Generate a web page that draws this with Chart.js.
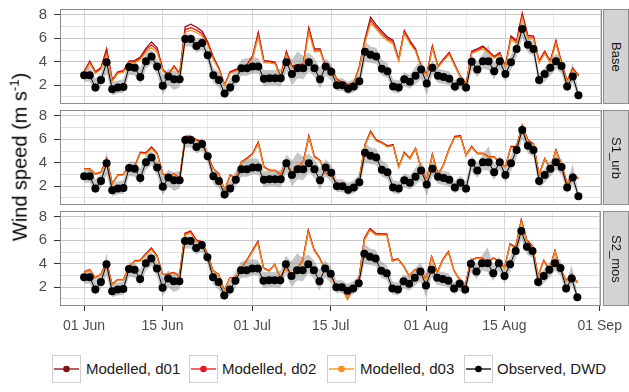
<!DOCTYPE html>
<html>
<head>
<meta charset="utf-8">
<script src="https://cdn.jsdelivr.net/npm/chart.js@4.4.0/dist/chart.umd.min.js"></script>
<style>
  body { margin: 0; background: #fff; font-family: 'Liberation Sans', Arial, sans-serif; }
  #figure { position: relative; width: 629px; height: 392px; overflow: hidden; background: #fff; }
  canvas.panel { position: absolute; left: 0; }
  .strip { position: absolute; left: 603px; width: 26px; height: 95px; background: #d3d3d3;
           border: 1px solid #8c8c8c; box-sizing: border-box; display: flex;
           align-items: center; justify-content: center; }
  .strip span { writing-mode: vertical-rl; font-size: 13px; color: #1a1a1a; }
  #ytitle { position: absolute; left: 19px; top: 157px; transform: translate(-50%, -50%) rotate(-90deg);
            white-space: nowrap; font-size: 20px; color: #000; }
  #ytitle sup { font-size: 13px; }
  .key { position: absolute; top: 355px; }
  .keytext { position: absolute; top: 360px; font-size: 15px; color: #1a1a1a; white-space: nowrap; }
</style>
</head>
<body>
<div id="figure">
  <canvas class="panel" id="p0"></canvas>
  <canvas class="panel" id="p1"></canvas>
  <canvas class="panel" id="p2"></canvas>
  <div id="ytitle">Wind speed (m s<sup>-1</sup>)</div>
  <div id="legend"></div>
</div>
<script>
// days since 01 Jun, ticks on the date axis
const xTickDays = [0, 14, 30, 44, 61, 75, 92];
const xTickLabels = ['01 Jun', '15 Jun', '01 Jul', '15 Jul', '01 Aug', '15 Aug', '01 Sep'];
const yTickValues = [2, 4, 6, 8];
const panelNames = ['Base', 'S1_urb', 'S2_mos'];
const seriesNames = ['Modelled, d01', 'Modelled, d02', 'Modelled, d03', 'Observed, DWD'];

// DWD station mean and spread (m/s)
const observed = [2.85, 2.85, 1.8, 2.45, 3.95, 1.65, 1.8, 1.85, 3.55, 3.5,
  2.7, 4.05, 4.45, 3.6, 1.95, 2.75, 2.5, 2.5, 5.95, 5.95,
  5.35, 5.6, 4.55, 2.85, 2.45, 1.3, 1.8, 2.55, 3.45, 3.45,
  3.6, 3.6, 2.55, 2.6, 2.6, 2.6, 3.95, 2.95, 3.45, 3.45,
  3.95, 3.45, 2.5, 3.6, 3.15, 2.0, 2.0, 1.7, 1.9, 2.35,
  4.85, 4.6, 4.45, 3.4, 3.2, 1.9, 1.8, 2.5, 2.3, 2.8,
  3.35, 2.15, 3.5, 2.8, 2.7, 2.55, 1.9, 2.3, 1.8, 4.0,
  3.35, 4.05, 4.05, 3.2, 4.05, 2.95, 3.95, 5.1, 6.8, 5.45,
  5.1, 2.45, 2.95, 3.5, 4.05, 3.65, 1.9, 2.75, 1.15];
const obsLow = [2.3, 2.3, 1.35, 1.9, 3.0, 1.15, 1.3, 1.35, 2.9, 2.8,
  2.1, 3.4, 3.8, 2.9, 1.2, 2.0, 1.6, 1.8, 5.3, 5.3,
  4.8, 5.0, 4.0, 2.2, 1.8, 0.9, 1.3, 2.0, 2.8, 2.8,
  3.0, 3.0, 1.9, 2.0, 2.0, 1.9, 3.2, 2.0, 2.6, 2.5,
  3.2, 2.7, 1.7, 2.8, 2.4, 1.5, 1.5, 1.2, 1.4, 1.8,
  4.0, 3.9, 3.8, 2.8, 2.6, 1.4, 1.3, 1.9, 1.7, 2.1,
  2.5, 1.1, 2.9, 2.2, 2.1, 2.0, 1.4, 1.7, 1.3, 3.3,
  2.7, 3.4, 3.3, 2.5, 3.4, 2.3, 3.3, 4.4, 6.1, 4.8,
  4.5, 1.9, 2.3, 2.8, 3.4, 3.0, 1.4, 2.2, 0.9];
const obsHigh = [3.5, 3.6, 2.6, 3.0, 4.9, 2.3, 2.4, 2.5, 4.1, 4.1,
  3.5, 4.7, 5.0, 4.2, 2.8, 3.4, 3.2, 3.3, 6.4, 6.4,
  5.9, 6.1, 5.1, 3.5, 3.1, 1.8, 2.5, 3.3, 4.2, 4.3,
  4.4, 4.3, 3.3, 3.3, 3.3, 3.4, 4.7, 4.2, 4.9, 4.5,
  4.8, 4.3, 3.5, 4.3, 3.8, 2.6, 2.6, 2.3, 2.5, 3.0,
  5.7, 5.3, 5.2, 4.2, 3.9, 2.5, 2.4, 3.1, 2.9, 3.6,
  4.1, 3.2, 4.1, 3.4, 3.3, 3.2, 2.4, 2.9, 2.4, 4.6,
  4.0, 4.7, 5.4, 3.9, 4.6, 3.5, 4.6, 5.8, 7.4, 6.1,
  5.7, 3.0, 3.5, 4.1, 4.7, 4.3, 2.4, 3.9, 1.5];

// Base run
const base01 = [3.15, 4.05, 3.15, 3.5, 5.1, 2.45, 3.15, 3.25, 4.05, 4.1,
  4.4, 5.15, 5.7, 5.2, 3.35, 2.9, 3.65, 3.0, 7.0, 7.2,
  6.95, 6.6, 5.7, 4.4, 3.45, 2.05, 3.15, 3.35, 3.5, 3.75,
  4.5, 6.5, 4.1, 4.05, 3.95, 2.7, 4.9, 3.6, 3.75, 3.8,
  6.9, 5.1, 5.1, 3.6, 3.5, 2.5, 2.25, 2.05, 2.2, 3.6,
  5.95, 7.8, 7.15, 6.6, 6.1, 5.85, 4.2, 6.65, 5.8, 5.1,
  3.6, 2.9, 5.35, 3.6, 4.25, 4.8, 3.75, 2.75, 2.05, 4.9,
  5.1, 5.35, 4.9, 4.45, 4.8, 3.6, 6.2, 5.8, 8.15, 6.25,
  6.2, 4.05, 4.9, 4.05, 5.8, 3.9, 2.35, 3.45, 2.85];
const base02 = [3.1, 4.0, 3.1, 3.45, 5.0, 2.4, 3.1, 3.2, 4.0, 4.0,
  4.3, 5.0, 5.45, 5.0, 3.3, 2.85, 3.6, 2.95, 6.75, 6.9,
  6.7, 6.4, 5.55, 4.3, 3.4, 2.0, 3.1, 3.3, 3.45, 3.7,
  4.4, 6.4, 4.0, 4.0, 3.9, 2.65, 4.8, 3.55, 3.7, 3.7,
  6.8, 5.0, 5.0, 3.55, 3.45, 2.45, 2.2, 2.0, 2.15, 3.55,
  5.8, 7.55, 6.95, 6.4, 5.95, 5.7, 4.15, 6.55, 5.7, 5.0,
  3.55, 2.85, 5.25, 3.55, 4.2, 4.75, 3.7, 2.7, 2.0, 4.85,
  5.0, 5.25, 4.85, 4.4, 4.7, 3.55, 6.1, 5.7, 7.95, 6.1,
  6.1, 4.0, 4.85, 4.0, 5.7, 3.85, 2.3, 3.4, 2.8];
const base03 = [3.0, 3.85, 3.0, 3.35, 4.6, 2.3, 3.0, 3.1, 3.9, 3.9,
  4.2, 4.8, 5.2, 4.8, 3.2, 2.8, 3.5, 2.9, 6.5, 6.7,
  6.5, 6.2, 5.4, 4.2, 3.3, 1.95, 3.0, 3.2, 3.4, 3.6,
  4.3, 6.1, 3.9, 3.9, 3.8, 2.6, 4.6, 3.45, 3.6, 3.6,
  6.5, 4.85, 4.9, 3.5, 3.4, 2.4, 2.15, 1.95, 2.1, 3.45,
  5.6, 7.3, 6.8, 6.2, 5.8, 5.5, 4.05, 6.4, 5.55, 4.9,
  3.5, 2.8, 5.1, 3.5, 4.1, 4.6, 3.6, 2.65, 1.95, 4.7,
  4.9, 5.1, 4.75, 4.3, 4.6, 3.5, 5.9, 5.55, 7.75, 5.95,
  5.95, 3.9, 4.7, 3.9, 5.55, 3.75, 2.25, 3.3, 2.75];

// S1_urb run
const s1d01 = [3.5, 3.5, 3.05, 3.2, 4.3, 2.2, 2.95, 3.0, 3.8, 3.7,
  4.9, 4.85, 5.35, 4.8, 3.05, 2.85, 3.05, 2.65, 6.25, 6.25,
  5.95, 5.8, 4.55, 3.5, 3.05, 1.65, 2.95, 2.65, 4.05, 4.4,
  4.8, 5.75, 3.65, 3.35, 3.35, 2.95, 4.2, 3.05, 3.65, 4.05,
  6.3, 4.55, 4.2, 3.05, 2.95, 2.2, 2.05, 1.65, 1.75, 2.65,
  5.55, 6.7, 5.95, 5.75, 5.45, 5.55, 3.65, 4.9, 4.4, 5.25,
  3.5, 2.5, 4.7, 2.95, 3.85, 5.2, 6.25, 6.3, 4.65, 5.4,
  4.8, 4.8, 4.5, 4.5, 4.05, 3.65, 5.4, 5.4, 7.2, 5.95,
  5.6, 2.95, 4.35, 3.5, 5.1, 3.8, 2.2, 3.05, 2.65];
const s1d02 = [3.5, 3.4, 3.05, 3.2, 4.35, 2.2, 2.95, 3.0, 3.8, 3.65,
  4.85, 4.8, 5.3, 4.75, 3.05, 2.85, 3.05, 2.65, 6.2, 6.2,
  5.9, 5.75, 4.5, 3.5, 3.05, 1.65, 2.95, 2.65, 4.05, 4.35,
  4.75, 5.7, 3.65, 3.35, 3.35, 2.95, 4.2, 3.05, 3.65, 4.05,
  6.2, 4.5, 4.2, 3.05, 2.95, 2.2, 2.05, 1.65, 1.75, 2.65,
  5.5, 6.6, 5.9, 5.7, 5.4, 5.5, 3.65, 4.85, 4.35, 5.2,
  3.5, 2.5, 4.7, 2.95, 3.85, 5.2, 6.2, 6.25, 4.65, 5.35,
  4.8, 4.8, 4.5, 4.5, 4.05, 3.65, 5.35, 5.35, 7.15, 5.9,
  5.6, 2.95, 4.35, 3.5, 5.05, 3.8, 2.2, 3.05, 2.65];
const s1d03 = [3.45, 3.45, 3.0, 3.15, 4.15, 2.15, 2.9, 2.95, 3.75, 3.6,
  4.8, 4.75, 5.2, 4.7, 3.0, 2.8, 3.0, 2.6, 6.15, 6.15,
  5.85, 5.7, 4.45, 3.45, 3.0, 1.6, 2.9, 2.6, 4.0, 4.3,
  4.7, 5.6, 3.6, 3.3, 3.3, 2.9, 4.15, 3.0, 3.6, 4.0,
  6.15, 4.45, 4.15, 3.0, 2.9, 2.15, 2.0, 1.6, 1.7, 2.6,
  5.45, 6.55, 5.85, 5.65, 5.35, 5.45, 3.6, 4.8, 4.3, 5.15,
  3.45, 2.45, 4.6, 2.9, 3.8, 5.15, 6.15, 6.2, 4.6, 5.3,
  4.75, 4.75, 4.45, 4.45, 4.0, 3.6, 5.3, 5.3, 7.1, 5.85,
  5.55, 2.9, 4.3, 3.45, 5.0, 3.75, 2.15, 3.0, 2.6];

// S2_mos run
const s2d01 = [3.25, 3.45, 2.8, 3.1, 4.0, 2.25, 2.65, 2.65, 3.65, 4.25,
  4.3, 4.85, 5.35, 4.7, 3.1, 3.1, 3.25, 2.9, 6.6, 6.8,
  6.05, 5.85, 4.85, 3.4, 3.1, 1.7, 2.8, 2.8, 3.5, 4.3,
  5.1, 5.9, 3.65, 3.4, 3.95, 2.8, 3.65, 2.95, 3.5, 4.3,
  6.85, 5.25, 4.5, 3.5, 2.95, 2.1, 1.95, 1.0, 1.95, 2.55,
  6.15, 7.0, 6.6, 6.55, 6.55, 4.3, 4.4, 3.8, 2.95, 3.5,
  3.5, 2.65, 4.6, 3.25, 4.35, 5.05, 3.4, 2.65, 2.1, 4.3,
  4.5, 4.5, 4.1, 4.5, 4.25, 3.65, 5.7, 5.4, 7.75, 6.0,
  5.5, 2.95, 4.3, 3.5, 5.1, 3.5, 2.55, 3.1, 2.4];
const s2d02 = [3.25, 3.5, 2.8, 3.1, 4.1, 2.25, 2.65, 2.65, 3.65, 4.25,
  4.25, 4.8, 5.3, 4.65, 3.1, 3.1, 3.25, 2.9, 6.55, 6.75,
  6.0, 5.8, 4.8, 3.4, 3.1, 1.7, 2.8, 2.8, 3.5, 4.25,
  5.05, 5.85, 3.65, 3.4, 3.95, 2.8, 3.65, 2.95, 3.5, 4.25,
  6.8, 5.2, 4.5, 3.5, 2.95, 2.1, 1.95, 1.0, 1.95, 2.55,
  6.1, 6.95, 6.55, 6.5, 6.5, 4.25, 4.4, 3.8, 2.95, 3.5,
  3.5, 2.65, 4.6, 3.25, 4.35, 5.0, 3.4, 2.65, 2.1, 4.25,
  4.5, 4.5, 4.1, 4.5, 4.25, 3.65, 5.65, 5.35, 7.7, 5.95,
  5.5, 2.95, 4.25, 3.5, 5.1, 3.5, 2.55, 3.1, 2.4];
const s2d03 = [3.2, 3.45, 2.75, 3.05, 3.9, 2.2, 2.6, 2.6, 3.6, 4.2,
  4.2, 4.75, 5.2, 4.6, 3.05, 3.05, 3.2, 2.85, 6.45, 6.6,
  5.9, 5.75, 4.75, 3.35, 3.05, 1.65, 2.75, 2.75, 3.45, 4.2,
  5.0, 5.75, 3.6, 3.35, 3.9, 2.75, 3.6, 2.9, 3.45, 4.2,
  6.7, 5.15, 4.45, 3.45, 2.9, 2.05, 1.9, 0.95, 1.9, 2.5,
  6.0, 6.85, 6.45, 6.45, 6.45, 4.2, 4.35, 3.75, 2.9, 3.45,
  3.45, 2.6, 4.5, 3.2, 4.3, 4.95, 3.35, 2.6, 2.05, 4.2,
  4.45, 4.45, 4.05, 4.45, 4.2, 3.6, 5.6, 5.3, 7.6, 5.9,
  5.45, 2.9, 4.2, 3.45, 5.05, 3.45, 2.5, 3.05, 2.35];

const runs = [[base01, base02, base03], [s1d01, s1d02, s1d03], [s2d01, s2d02, s2d03]];
const colors = ['#84121a', '#e31a1c', '#f5901f', '#000000'];

// layout of the facets
const PANEL_TOP = [9, 110, 211];
const PANEL_H = 95;
const PAD = 16;
const Y_AXIS_W = 60;

Chart.defaults.font.family = "'Liberation Sans', Arial, sans-serif";

// minor breaks sit half way between the date ticks
const xGrid = [];
xTickDays.forEach((d, i) => {
  xGrid.push(d);
  if (i < xTickDays.length - 1) xGrid.push((d + xTickDays[i + 1]) / 2);
});
const yGrid = [1, 2, 3, 4, 5, 6, 7, 8];

function pts(arr) {
  return arr.map((v, i) => ({ x: i, y: v }));
}

// grey frame round each facet
const panelBorder = {
  id: 'panelBorder',
  afterDatasetsDraw(chart) {
    const a = chart.chartArea;
    const ctx = chart.ctx;
    ctx.save();
    ctx.strokeStyle = '#8c8c8c';
    ctx.lineWidth = 1;
    ctx.strokeRect(a.left + 0.5, a.top + 0.5, a.right - a.left - 1, a.bottom - a.top - 1);
    ctx.restore();
  }
};

function drawPanel(i) {
  const showDates = i === 2;
  const axisH = showDates ? 40 : 0;
  const padBottom = showDates ? 0 : PAD;
  const canvas = document.getElementById('p' + i);
  canvas.width = 629;
  canvas.height = PAD + PANEL_H + padBottom + axisH;
  canvas.style.top = (PANEL_TOP[i] - PAD) + 'px';

  const m = runs[i];
  const line = (data, c, ord) => ({
    data: pts(data), borderColor: c, borderWidth: 1.3, pointRadius: 0,
    fill: false, tension: 0, order: ord
  });

  new Chart(canvas, {
    type: 'line',
    data: {
      datasets: [
        { data: pts(obsHigh), borderWidth: 0, pointRadius: 0, fill: '+1',
          backgroundColor: 'rgba(128,128,128,0.45)', order: 6 },
        { data: pts(obsLow), borderWidth: 0, pointRadius: 0, fill: false, order: 6 },
        line(m[0], colors[0], 4),
        line(m[1], colors[1], 3),
        line(m[2], colors[2], 2),
        { data: pts(observed), borderColor: '#000', borderWidth: 1, pointRadius: 4,
          pointBackgroundColor: '#000', pointBorderWidth: 0, fill: false, tension: 0, order: 1 }
      ]
    },
    options: {
      responsive: false,
      animation: false,
      layout: { padding: { top: PAD, bottom: padBottom, left: 0, right: 27 } },
      plugins: { legend: { display: false }, tooltip: { enabled: false } },
      scales: {
        x: {
          type: 'linear', min: -4.3, max: 92.2,
          afterBuildTicks: s => { s.ticks = xGrid.map(v => ({ value: v })); },
          afterFit: s => { s.height = axisH; },
          ticks: {
            display: showDates, autoSkip: false, maxRotation: 0, padding: 7,
            color: '#4d4d4d', font: { size: 14 },
            callback: v => {
              const k = xTickDays.indexOf(v);
              return k >= 0 ? xTickLabels[k] : '';
            }
          },
          grid: {
            color: c => xTickDays.includes(c.tick.value) ? '#d6d6d6' : '#ececec',
            drawTicks: showDates, tickLength: 5,
            tickColor: c => xTickDays.includes(c.tick.value) ? '#333' : 'rgba(0,0,0,0)'
          },
          border: { display: false }
        },
        y: {
          min: 0.4, max: 8.5,
          afterBuildTicks: s => { s.ticks = yGrid.map(v => ({ value: v })); },
          afterFit: s => { s.width = Y_AXIS_W; },
          ticks: {
            autoSkip: false, padding: 7, color: '#4d4d4d', font: { size: 15 },
            callback: v => yTickValues.includes(v) ? String(v) : ''
          },
          grid: {
            color: c => yTickValues.includes(c.tick.value) ? '#c8c8c8' : '#dedede',
            tickLength: 6,
            tickColor: c => yTickValues.includes(c.tick.value) ? '#333' : 'rgba(0,0,0,0)'
          },
          border: { display: false }
        }
      }
    },
    plugins: [panelBorder]
  });
}

const fig = document.getElementById('figure');
panelNames.forEach((name, i) => {
  drawPanel(i);
  const strip = document.createElement('div');
  strip.className = 'strip';
  strip.style.top = PANEL_TOP[i] + 'px';
  strip.innerHTML = '<span>' + name + '</span>';
  fig.appendChild(strip);
});

// legend keys along the bottom
const keyLeft = [52, 189, 327, 464];
const textLeft = [86, 222, 360, 497];
seriesNames.forEach((name, i) => {
  const key = document.createElement('div');
  key.className = 'key';
  key.style.left = keyLeft[i] + 'px';
  key.innerHTML = '<svg width="29" height="28"><rect x="0.5" y="0.5" width="28" height="27" fill="#fff" stroke="#cfcfcf"/>' +
    '<line x1="2" y1="14" x2="27" y2="14" stroke="' + colors[i] + '" stroke-width="1.3"/>' +
    '<circle cx="14.5" cy="14" r="3.3" fill="' + colors[i] + '"/></svg>';
  fig.appendChild(key);
  const t = document.createElement('div');
  t.className = 'keytext';
  t.style.left = textLeft[i] + 'px';
  t.textContent = name;
  fig.appendChild(t);
});
</script>
</body>
</html>
